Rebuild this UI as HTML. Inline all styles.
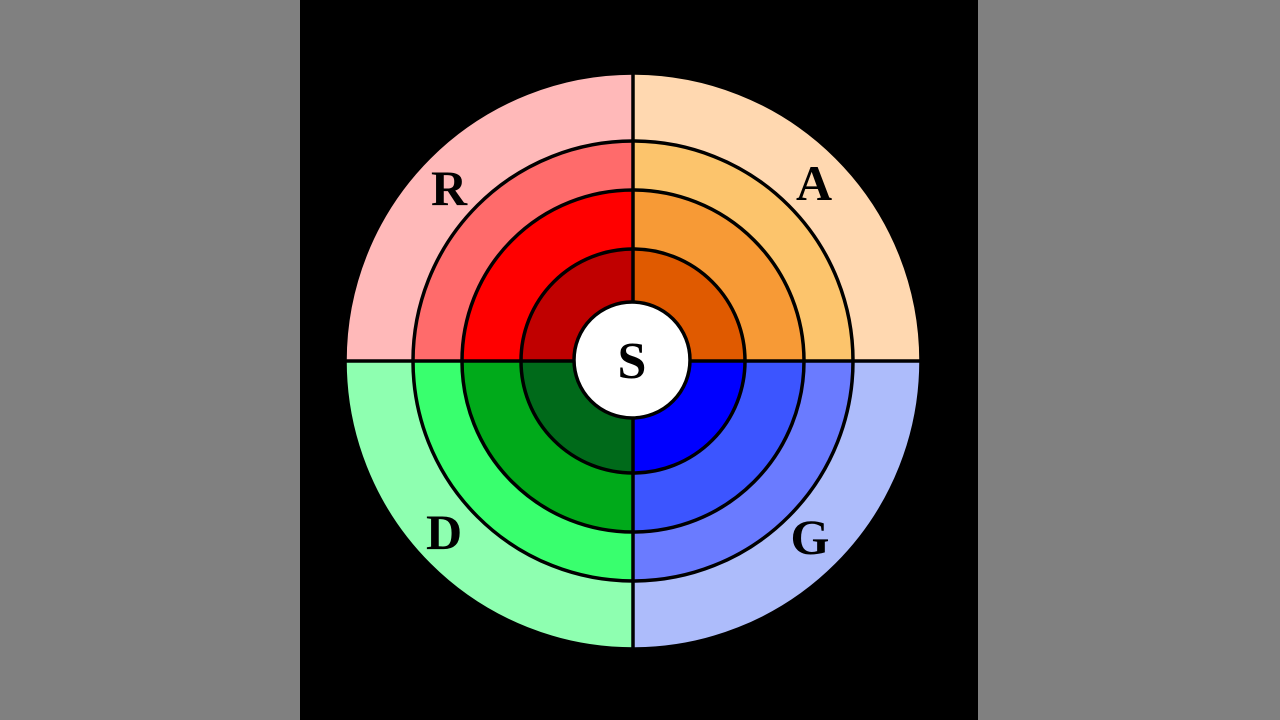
<!DOCTYPE html>
<html><head><style>html,body{margin:0;padding:0;background:#808080;width:1280px;height:720px;overflow:hidden}</style></head>
<body>
<svg width="1280" height="720" viewBox="0 0 1280 720" xmlns="http://www.w3.org/2000/svg">
<rect x="0" y="0" width="1280" height="720" fill="#808080"/>
<rect x="300" y="0" width="678" height="720" fill="#000"/>
<defs>
<clipPath id="tl"><rect x="0" y="0" width="633" height="361"/></clipPath>
<clipPath id="tr"><rect x="633" y="0" width="700" height="361"/></clipPath>
<clipPath id="bl"><rect x="0" y="361" width="633" height="400"/></clipPath>
<clipPath id="br"><rect x="633" y="361" width="700" height="400"/></clipPath>
</defs>
<g stroke="#000" stroke-width="3.5">
<g clip-path="url(#tl)">
<circle cx="633" cy="361" r="288" fill="#ffb9b9"/>
<circle cx="633" cy="361" r="220" fill="#ff6b6b"/>
<circle cx="633" cy="361" r="171" fill="#ff0000"/>
<circle cx="633" cy="361" r="112" fill="#c00000"/>
</g>
<g clip-path="url(#tr)">
<circle cx="633" cy="361" r="288" fill="#ffd8b0"/>
<circle cx="633" cy="361" r="220" fill="#fcc46c"/>
<circle cx="633" cy="361" r="171" fill="#f79a36"/>
<circle cx="633" cy="361" r="112" fill="#e05a00"/>
</g>
<g clip-path="url(#bl)">
<circle cx="633" cy="361" r="288" fill="#8effb0"/>
<circle cx="633" cy="361" r="220" fill="#39ff6e"/>
<circle cx="633" cy="361" r="171" fill="#00aa1a"/>
<circle cx="633" cy="361" r="112" fill="#006a1a"/>
</g>
<g clip-path="url(#br)">
<circle cx="633" cy="361" r="288" fill="#adbcfb"/>
<circle cx="633" cy="361" r="220" fill="#6a7bff"/>
<circle cx="633" cy="361" r="171" fill="#3c55ff"/>
<circle cx="633" cy="361" r="112" fill="#0000ff"/>
</g>
<line x1="633" y1="73" x2="633" y2="650"/>
<line x1="345" y1="361" x2="922" y2="361"/>
<circle cx="632" cy="360" r="58" fill="#fff"/>
</g>
<g font-family="Liberation Serif, serif" font-weight="bold" font-size="50" fill="#000" text-anchor="middle">
<text x="449" y="205">R</text>
<text x="814" y="200">A</text>
<text x="444" y="549">D</text>
<text x="810" y="554">G</text>
<text x="632" y="378" font-size="52">S</text>
</g>
</svg>
</body></html>
